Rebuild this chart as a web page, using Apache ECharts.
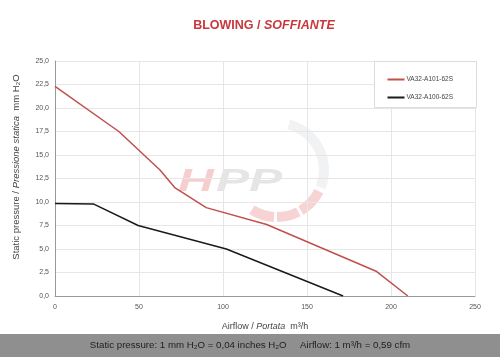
<!DOCTYPE html>
<html><head><meta charset="utf-8">
<script src="https://cdn.jsdelivr.net/npm/echarts@6/dist/echarts.min.js"></script>
<style>html,body{margin:0;padding:0;background:#fff}#c{width:500px;height:357px}</style>
</head><body><div id="c"></div>
<script>
const seriesNames = ['VA32-A101-62S', 'VA32-A100-62S'];
const redX = [0, 38, 62.5, 71.5, 90, 126, 191.5, 210];
const redY = [22.3, 17.5, 13.4, 11.5, 9.4, 7.6, 2.6, 0];
const blackX = [0, 22.8, 49.5, 102, 171.5];
const blackY = [9.85, 9.8, 7.5, 5.0, 0];
const xTicks = [0, 50, 100, 150, 200, 250];

const chart = echarts.init(document.getElementById('c'), null, {renderer: 'canvas'});
const font = 'Liberation Sans, Arial, sans-serif';
const pair = (xs, ys) => xs.map((x, i) => [x, ys[i]]);

chart.setOption({
  animation: false,
  backgroundColor: '#fff',
  title: {
    text: '{a|BLOWING / }{b|SOFFIANTE}',
    left: 259, top: 14, textAlign: 'center',
    textStyle: {rich: {
      a: {fontFamily: font, fontSize: 12.5, fontWeight: 'bold', color: '#c8373c'},
      b: {fontFamily: font, fontSize: 12.5, fontWeight: 'bold', fontStyle: 'italic', color: '#c8373c'}
    }}
  },
  grid: {left: 55, right: 25, top: 61, bottom: 61, containLabel: false},
  legend: {
    right: 42, top: 71, orient: 'vertical', itemGap: 11, itemWidth: 17, itemHeight: 2,
    icon: 'rect',
    textStyle: {fontFamily: font, fontSize: 6.5, color: '#444', padding: [0, 0, 0, -3]},
    data: seriesNames
  },
  xAxis: {
    type: 'value', min: 0, max: 250, interval: 50,
    name: '{a|Airflow / }{b|Portata}{a|  m³/h}',
    nameLocation: 'middle', nameGap: 26,
    nameTextStyle: {rich: {
      a: {fontFamily: font, fontSize: 9, color: '#444'},
      b: {fontFamily: font, fontSize: 9, fontStyle: 'italic', color: '#444'}
    }},
    axisLine: {show: true, lineStyle: {color: '#999', width: 1}},
    axisTick: {show: false},
    axisLabel: {fontFamily: font, fontSize: 7, color: '#555', margin: 8},
    splitLine: {show: true, lineStyle: {color: '#e6e6e6', width: 1}}
  },
  yAxis: {
    type: 'value', min: 0, max: 25, interval: 2.5,
    axisLine: {show: true, lineStyle: {color: '#999', width: 1}},
    axisTick: {show: false},
    axisLabel: {fontFamily: font, fontSize: 7, color: '#555', margin: 6,
      formatter: v => v.toFixed(1).replace('.', ',')},
    splitLine: {show: true, lineStyle: {color: '#e6e6e6', width: 1}}
  },
  graphic: [
    {type: 'text', x: 16, y: 167, rotation: Math.PI / 2,
      style: {text: '{a|Static pressure / }{b|Pressione statica}{a|  mm H₂O}',
        align: 'center', verticalAlign: 'middle',
        rich: {
          a: {fontFamily: font, fontSize: 9.5, fill: '#444'},
          b: {fontFamily: font, fontSize: 9.5, fontStyle: 'italic', fill: '#444'}
        }}, z: 3},
    {type: 'rect', left: 0, top: 334, shape: {width: 500, height: 23}, style: {fill: '#8f8f8f'}, z: 0},
    {type: 'text', left: 'center', top: 340,
      style: {text: 'Static pressure: 1 mm H₂O = 0,04 inches H₂O     Airflow: 1 m³/h = 0,59 cfm',
        font: '9.7px ' + font, fill: '#1e1e1e'}, z: 1},
    {type: 'rect', left: 374, top: 61, shape: {width: 102, height: 46},
      style: {fill: '#fff', stroke: '#dcdcdc', lineWidth: 1}, z: 2},
    {type: 'text', x: 178, y: 166, scaleX: 1.55,
      style: {text: 'H', font: 'italic bold 32px ' + font, fill: 'rgba(225,80,80,0.28)'}, z: 0},
    {type: 'text', x: 216, y: 166, scaleX: 1.55,
      style: {text: 'PP', font: 'italic bold 32px ' + font, fill: 'rgba(150,150,160,0.25)'}, z: 0},
    {type: 'sector', shape: {cx: 277, cy: 170, r0: 42, r: 52, startAngle: -Math.PI * 0.42, endAngle: Math.PI * 0.12},
      style: {fill: 'rgba(180,185,195,0.18)'}, z: 0},
    {type: 'sector', shape: {cx: 277, cy: 170, r0: 42, r: 52, startAngle: Math.PI * 0.15, endAngle: Math.PI * 0.33},
      style: {fill: 'rgba(225,80,80,0.25)'}, z: 0},
    {type: 'sector', shape: {cx: 277, cy: 170, r0: 42, r: 52, startAngle: Math.PI * 0.35, endAngle: Math.PI * 0.5},
      style: {fill: 'rgba(225,80,80,0.25)'}, z: 0},
    {type: 'sector', shape: {cx: 277, cy: 170, r0: 42, r: 52, startAngle: Math.PI * 0.52, endAngle: Math.PI * 0.68},
      style: {fill: 'rgba(225,80,80,0.25)'}, z: 0}
  ],
  series: [
    {name: seriesNames[0], type: 'line', data: pair(redX, redY), symbol: 'none',
      lineStyle: {color: '#c0504d', width: 1.5}, itemStyle: {color: '#c0504d'}, z: 5},
    {name: seriesNames[1], type: 'line', data: pair(blackX, blackY), symbol: 'none',
      lineStyle: {color: '#1a1a1a', width: 1.5}, itemStyle: {color: '#1a1a1a'}, z: 5}
  ]
});
</script></body></html>
